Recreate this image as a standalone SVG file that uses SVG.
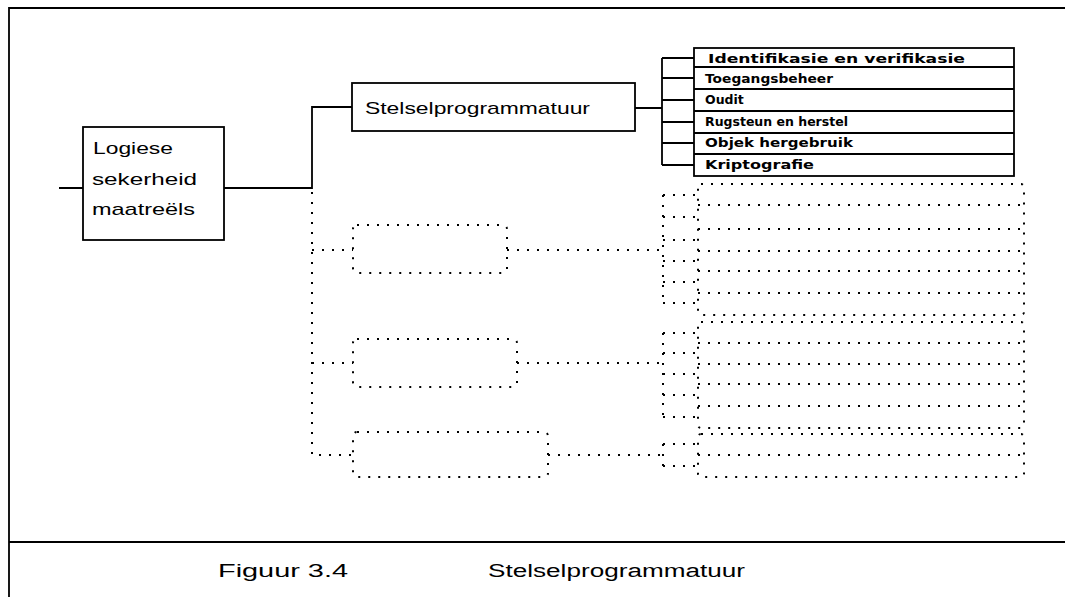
<svg xmlns="http://www.w3.org/2000/svg" width="1065" height="597" viewBox="0 0 1065 597">
<style>
.frame{fill:none;stroke:#000;stroke-width:1.8}
.box{fill:#fff;stroke:#000;stroke-width:1.8}
.line{fill:none;stroke:#000;stroke-width:1.8}
.dot{fill:none;stroke:#000;stroke-width:2;stroke-dasharray:2 8}
.t{font-family:"Liberation Sans","DejaVu Sans",sans-serif;fill:#000}
.big{font-size:17px}
.small{font-family:"DejaVu Sans","Liberation Sans",sans-serif;font-size:12.5px;font-weight:bold}
.cap{font-size:18px}
</style>
<rect width="1065" height="597" fill="#fff"/>
<g id="frame">
<path class="frame" d="M9,597 V8 H1065 M9,542 H1065"/>
</g>
<g id="connectors">
<path class="line" d="M59,188 H83 M224,188 H312 V107 H352 M635,108 H662 M662,58 V165 M662,58 H694 M662,78 H694 M662,100 H694 M662,122 H694 M662,143 H694 M662,165 H694"/>
<path class="dot" d="M312,192 V455 H353 M312,250 H353 M312,363 H353"/>
<path class="dot" d="M507,250 H663 M517,363 H663 M548,455 H663"/>
<path class="dot" d="M663,195 V303 M663,195 H698 M663,217 H698 M663,240 H698 M663,261 H698 M663,282 H698 M663,303 H698"/>
<path class="dot" d="M663,333 V417 M663,333 H698 M663,353 H698 M663,374 H698 M663,395 H698 M663,417 H698"/>
<path class="dot" d="M663,444 V466 M663,444 H698 M663,466 H698"/>
</g>
<g id="node-logiese">
<rect class="box" x="83" y="127" width="141" height="113"/>
<text class="t big" x="93" y="154" textLength="80" lengthAdjust="spacingAndGlyphs">Logiese</text>
<text class="t big" x="92" y="185" textLength="105" lengthAdjust="spacingAndGlyphs">sekerheid</text>
<text class="t big" x="92" y="215" textLength="103" lengthAdjust="spacingAndGlyphs">maatreëls</text>
</g>
<g id="node-stelsel">
<rect class="box" x="352" y="83" width="283" height="48"/>
<text class="t big" x="365" y="114" textLength="225" lengthAdjust="spacingAndGlyphs">Stelselprogrammatuur</text>
</g>
<g id="node-items">
<rect class="box" x="694" y="48" width="320" height="128"/>
<path class="line" d="M694,67 H1014 M694,89 H1014 M694,111 H1014 M694,133 H1014 M694,154 H1014"/>
<text class="t small" x="708" y="63" textLength="257" lengthAdjust="spacingAndGlyphs">Identifikasie en verifikasie</text>
<text class="t small" x="705" y="83" textLength="128" lengthAdjust="spacingAndGlyphs">Toegangsbeheer</text>
<text class="t small" x="705" y="104">Oudit</text>
<text class="t small" x="705" y="126">Rugsteun en herstel</text>
<text class="t small" x="705" y="147" textLength="148" lengthAdjust="spacingAndGlyphs">Objek hergebruik</text>
<text class="t small" x="705" y="169" textLength="109" lengthAdjust="spacingAndGlyphs">Kriptografie</text>
</g>
<g id="node-dotted-1">
<rect class="dot" x="353" y="225" width="154" height="48" rx="4"/>
</g>
<g id="node-dotted-2">
<rect class="dot" x="353" y="339" width="164" height="48" rx="4"/>
</g>
<g id="node-dotted-3">
<rect class="dot" x="353" y="432" width="195" height="45" rx="4"/>
</g>
<g id="node-dotted-stack-1">
<rect class="dot" x="698" y="184" width="326" height="131" rx="3"/>
<path class="dot" d="M698,205 H1024 M698,229 H1024 M698,251 H1024 M698,271 H1024 M698,293 H1024"/>
</g>
<g id="node-dotted-stack-2">
<rect class="dot" x="698" y="322" width="326" height="106" rx="3"/>
<path class="dot" d="M698,343 H1024 M698,364 H1024 M698,384 H1024 M698,406 H1024"/>
</g>
<g id="node-dotted-stack-3">
<rect class="dot" x="698" y="434" width="326" height="43" rx="3"/>
<path class="dot" d="M698,455 H1024"/>
</g>
<g id="caption">
<text class="t cap" x="218" y="577" textLength="130" lengthAdjust="spacingAndGlyphs">Figuur 3.4</text>
<text class="t cap" x="488" y="577" textLength="257" lengthAdjust="spacingAndGlyphs">Stelselprogrammatuur</text>
</g>
</svg>
